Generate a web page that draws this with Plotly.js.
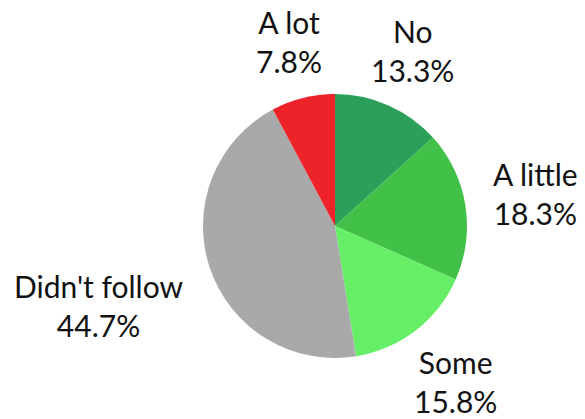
<!DOCTYPE html>
<html>
<head>
<meta charset="utf-8">
<script src="https://cdn.plot.ly/plotly-3.0.1.min.js"></script>
<style>html,body{margin:0;padding:0;background:#fff;}#chart{width:585px;height:419px;}</style>
</head>
<body>
<div id="chart"></div>
<script>
const labels = ["No", "A little", "Some", "Didn't follow", "A lot"];
const values = [13.3, 18.3, 15.8, 44.7, 7.8];
const colors = ["#2ca05a", "#41c147", "#66ef66", "#a9a9a9", "#ee2229"];

const W = 585, H = 419;
const cx = 335, cy = 226, r = 132;
const fontSize = 30, fontFamily = "Lato, sans-serif";
const labelGap = 160;   // distance from centre to nearest edge of label block
const halfBlock = 29;   // half height of a two-line label block

const total = values.reduce((a, b) => a + b, 0);
const ctx = document.createElement("canvas").getContext("2d");
ctx.font = fontSize + "px Lato";

let cum = 0;
const annotations = labels.map((lab, i) => {
  const mid = (cum + values[i] / 2) / total * 2 * Math.PI;
  cum += values[i];
  const ux = Math.sin(mid), uy = -Math.cos(mid);
  const pct = values[i].toFixed(1) + "%";
  const halfW = Math.max(ctx.measureText(lab).width, ctx.measureText(pct).width) / 2;
  const edge = Math.min(halfW / Math.max(Math.abs(ux), 1e-6), halfBlock / Math.max(Math.abs(uy), 1e-6));
  const d = labelGap + edge;
  const px = cx + ux * d, py = cy + uy * d;
  return {
    xref: "paper", yref: "paper",
    x: px / W, y: 1 - py / H,
    xanchor: "center", yanchor: "middle",
    text: lab + "<br>" + pct,
    showarrow: false,
    font: {family: fontFamily, size: fontSize, color: "#111"}
  };
});

Plotly.newPlot("chart", [{
  type: "pie",
  labels: labels,
  values: values,
  sort: false,
  direction: "clockwise",
  rotation: 0,
  marker: {colors: colors, line: {width: 0}},
  textinfo: "none",
  automargin: false,
  showlegend: false,
  domain: {x: [(cx - r) / W, (cx + r) / W], y: [(H - cy - r) / H, (H - cy + r) / H]}
}], {
  width: W, height: H,
  margin: {l: 0, r: 0, t: 0, b: 0},
  paper_bgcolor: "#fff",
  showlegend: false,
  annotations: annotations
}, {displayModeBar: false, staticPlot: true});
</script>
</body>
</html>
